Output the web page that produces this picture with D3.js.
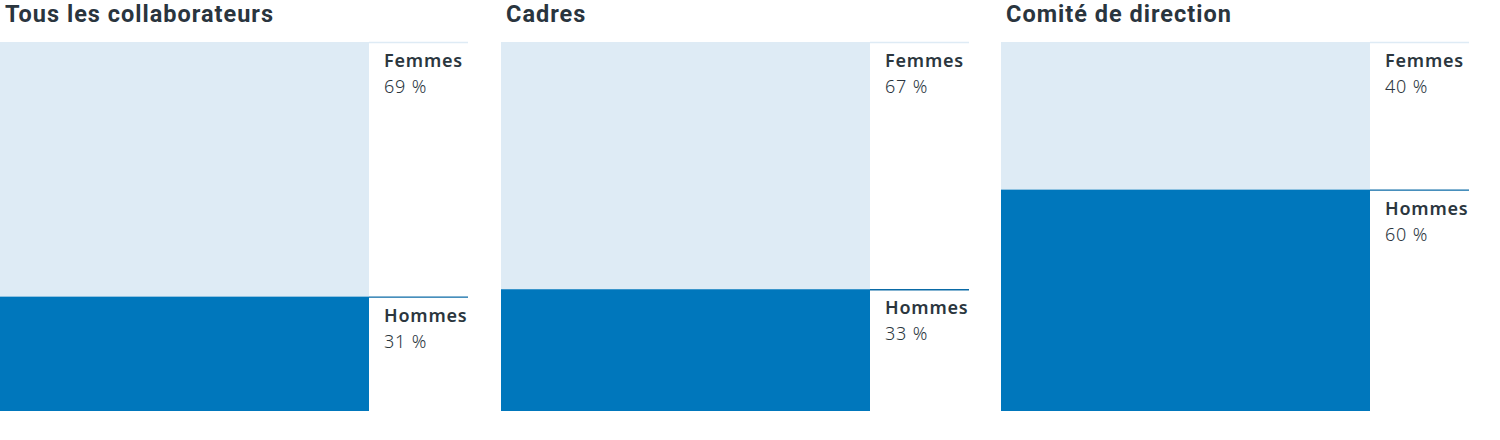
<!DOCTYPE html>
<html><head><meta charset="utf-8">
<script src="https://cdn.jsdelivr.net/npm/d3@7"></script>
<style>body{margin:0;background:#fff}svg{display:block}</style>
</head><body>
<svg id="c" width="1500" height="440"></svg>
<script>
const panels = ["Tous les collaborateurs", "Cadres", "Comité de direction"];
const femmes = [69, 67, 40];
const hommes = [31, 33, 60];
const seriesNames = ["Femmes", "Hommes"];
const colors = ["#deebf5", "#0077bc"];
const lineColors = ["#deebf5", "#0a6aa6"];

const svg = d3.select("#c");
const panelX = d3.scaleLinear().domain([0, 3]).range([0, 1501.5]);
const y = d3.scaleLinear().domain([0, 100]).range([42, 411]);
const barW = 369, lineW = 468;
const titleFont = "Roboto, 'Noto Sans', sans-serif";
const font = "'Noto Sans', 'Open Sans', sans-serif";

panels.forEach((p, i) => {
  const x0 = Math.round(panelX(i));
  const g = svg.append("g").attr("transform", `translate(${x0},0)`);
  g.append("text").attr("x", 5).attr("y", 22)
    .attr("font-family", titleFont).attr("font-weight", 700)
    .attr("font-size", 23.5).attr("letter-spacing", 1.0).attr("fill", "#2a353e").text(p);
  const segs = [
    {name: seriesNames[0], v: femmes[i], start: 0, c: colors[0], lc: lineColors[0]},
    {name: seriesNames[1], v: hommes[i], start: femmes[i], c: colors[1], lc: lineColors[1]}
  ];
  segs.forEach(s => {
    const top = y(s.start), bot = y(s.start + s.v);
    g.append("rect").attr("x", 0).attr("y", top).attr("width", barW).attr("height", bot - top).attr("fill", s.c);
    g.append("line").attr("x1", barW).attr("x2", lineW).attr("y1", top + 0.5).attr("y2", top + 0.5)
      .attr("stroke", s.lc).attr("stroke-width", 1.3);
    g.append("text").attr("x", 384).attr("y", top + 25)
      .attr("font-family", font).attr("font-weight", 600)
      .attr("font-size", 18).attr("letter-spacing", 0.8).attr("fill", "#2b363e").text(s.name);
    g.append("text").attr("x", 384).attr("y", top + 51)
      .attr("font-family", font).attr("font-weight", 300)
      .attr("font-size", 18).attr("letter-spacing", 0.8).attr("fill", "#2b363e").text(s.v + " %");
  });
});
</script>
</body></html>
